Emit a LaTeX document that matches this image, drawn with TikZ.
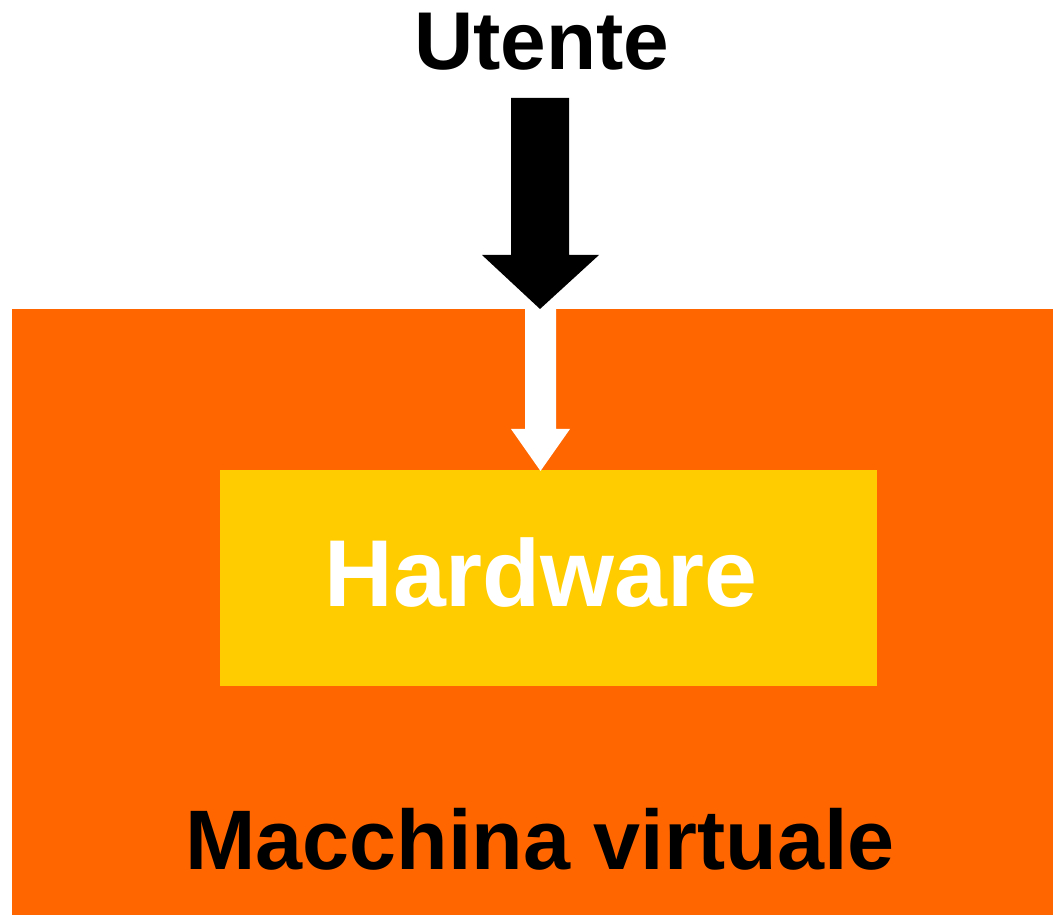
\documentclass[tikz,border=0pt]{standalone}
\usepackage{fontspec}
\setmainfont{Liberation Sans}
\definecolor{vmorange}{HTML}{FF6600}
\definecolor{hwyellow}{HTML}{FFCC00}
\begin{document}
\begin{tikzpicture}[x=1pt,y=1pt,
  lbl/.style={font=\bfseries, inner sep=0pt, anchor=base}]
\useasboundingbox (0,0) rectangle (1053,915);
% virtual machine box
\fill[vmorange] (11.5,0) rectangle (1053,605.5);
% hardware box
\fill[hwyellow] (220,229) rectangle (877,445);
% user arrow (black, pointing down onto the machine)
\fill[black] (511,817) -- (569,817) -- (569,660) -- (599,660) -- (540,606)
  -- (482,660) -- (511,660) -- cycle;
% inner arrow (white, into the hardware)
\fill[white] (525,606) -- (556,606) -- (556,486) -- (570,486) -- (540.5,444)
  -- (511,486) -- (525,486) -- cycle;
% labels
\node[lbl, font=\fontsize{82}{82}\selectfont\bfseries] (utente) at (542,845) {Utente};
\node[lbl, font=\fontsize{95}{95}\selectfont\bfseries, text=white] (hw) at (541,308) {Hardware};
\node[lbl, font=\fontsize{84.5}{84.5}\selectfont\bfseries] (vm) at (540,45) {Macchina virtuale};
\end{tikzpicture}
\end{document}
